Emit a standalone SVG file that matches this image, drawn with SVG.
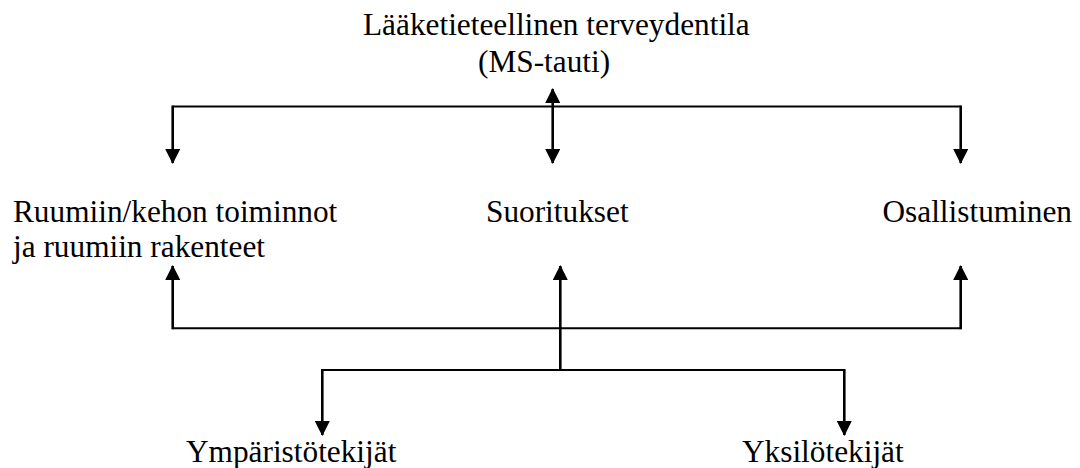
<svg xmlns="http://www.w3.org/2000/svg" width="1080" height="468" viewBox="0 0 1080 468">
<defs>
<style>
text{font-family:"Liberation Serif","Times New Roman",serif;font-size:31.3px;fill:#000}
.c{fill:none;stroke:#000;stroke-width:2;stroke-linecap:butt}
.v{fill:none;stroke:#000;stroke-width:2.6}
</style>
<marker id="ah" markerUnits="userSpaceOnUse" markerWidth="15" markerHeight="15" refX="14" refY="7.5" orient="auto-start-reverse" viewBox="0 0 15 15">
<path d="M0,0 L15,7.5 L0,15 z" fill="#000"/>
</marker>
</defs>
<rect width="1080" height="468" fill="#fff"/>
<g id="connectors">
<path class="c" d="M172.7,106.5 H960.7"/>
<path class="v" d="M172.7,105.5 V163" marker-end="url(#ah)"/>
<path class="v" d="M960.7,105.5 V163" marker-end="url(#ah)"/>
<path class="v" d="M552.7,89 V163" marker-start="url(#ah)" marker-end="url(#ah)"/>
<path class="c" d="M172.7,328.3 H960.7"/>
<path class="v" d="M172.7,329.3 V266" marker-end="url(#ah)"/>
<path class="v" d="M960.7,329.3 V266" marker-end="url(#ah)"/>
<path class="v" d="M560.3,370 V266" marker-end="url(#ah)"/>
<path class="c" d="M322.3,370 H844.3"/>
<path class="v" d="M322.3,369 V435" marker-end="url(#ah)"/>
<path class="v" d="M844.3,369 V435" marker-end="url(#ah)"/>
</g>
<g id="node-terveydentila">
<text x="363" y="35">Lääketieteellinen terveydentila</text>
<text x="478" y="71.7">(MS-tauti)</text>
</g>
<g id="node-ruumiin">
<text x="13" y="222">Ruumiin/kehon toiminnot</text>
<text x="13" y="257">ja ruumiin rakenteet</text>
</g>
<g id="node-suoritukset">
<text x="486" y="222">Suoritukset</text>
</g>
<g id="node-osallistuminen">
<text x="882.5" y="222">Osallistuminen</text>
</g>
<g id="node-ymparisto">
<text x="186" y="461.7">Ympäristötekijät</text>
</g>
<g id="node-yksilo">
<text x="742" y="461.7">Yksilötekijät</text>
</g>
</svg>
